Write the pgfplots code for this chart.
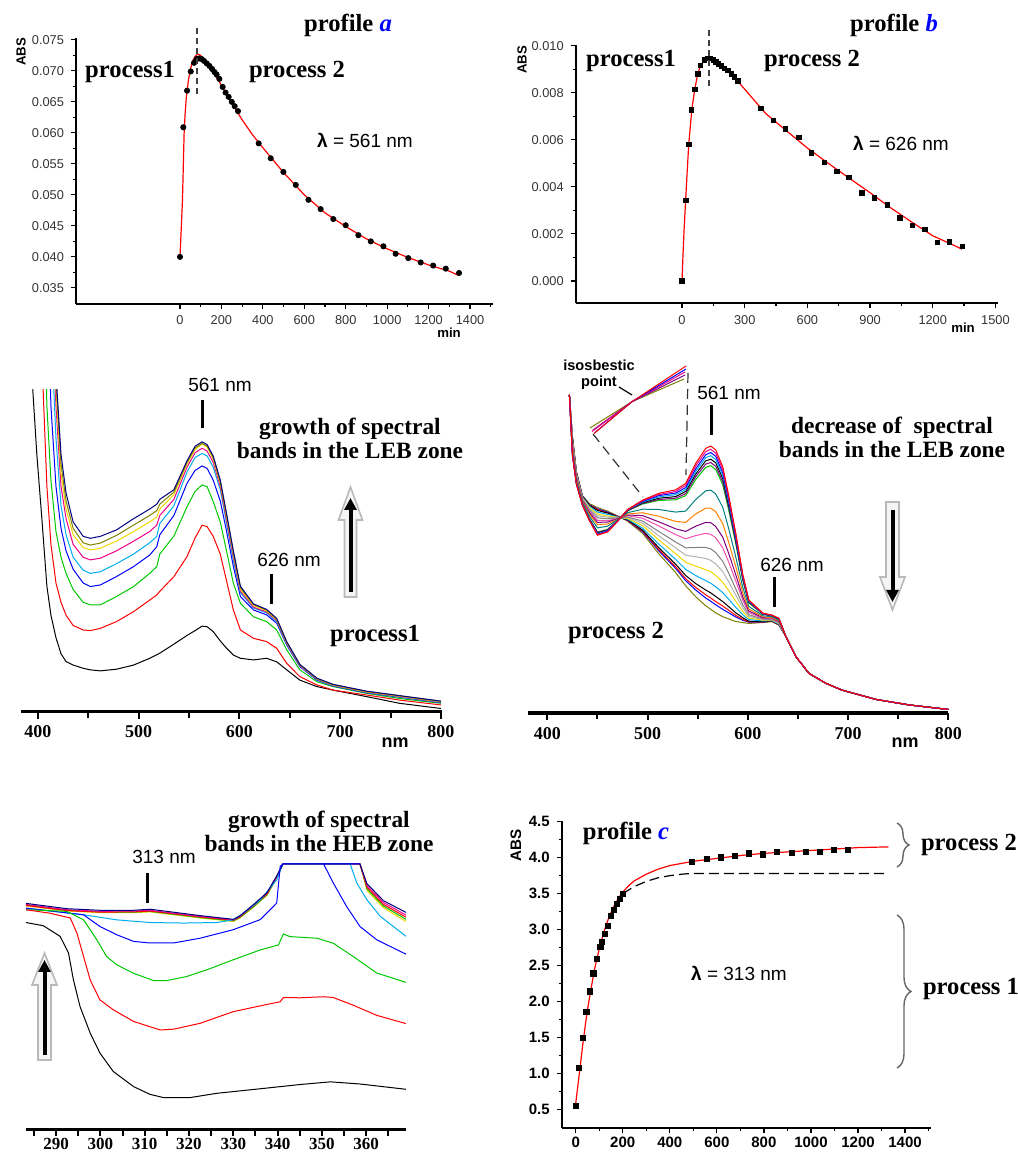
\documentclass[border=0pt]{standalone}
\usepackage{pgfplots}
\pgfplotsset{compat=1.18}
\usepackage{pgfplotstable}
\usepackage{fontspec}
\setmainfont{Liberation Serif}
\setsansfont{Liberation Sans}
\usetikzlibrary{arrows.meta,decorations.pathreplacing}
\definecolor{navy}{RGB}{0,0,128}
\definecolor{olivec}{RGB}{128,128,0}
\definecolor{yel}{RGB}{240,215,0}
\definecolor{grn}{RGB}{0,200,0}

\newcommand\bigbf{\fontsize{12.3}{14}\selectfont\bfseries}
\newcommand\midbf{\fontsize{11.7}{14.5}\selectfont\bfseries}
\newcommand\lam{\sffamily\fontsize{9.5}{11}\selectfont}
\newcommand\smsf{\sffamily\bfseries\fontsize{6.6}{7}\selectfont}

\pgfplotsset{
  /pgf/number format/assume math mode=true,
  /pgf/number format/1000 sep={},
  kinax/.style={scale only axis, anchor=south west,
    axis x line=bottom, axis y line=left, axis line style={-, line width=0.9pt},
    tick align=outside, major tick length=2.5pt, minor tick length=1.6pt,
    tick style={black, line width=0.6pt}, scaled y ticks=false,
    tick label style={font=\sffamily\fontsize{6.4}{7}\selectfont, text=black!80}},
  specax/.style={scale only axis, anchor=south west,
    axis x line=bottom, axis y line=none, ytick=\empty,
    axis line style={-, line width=1.7pt},
    tick align=outside, major tick length=3.5pt, minor tick length=3pt,
    tick style={black, line width=1pt}, ymin=0, ymax=1,
    xticklabel style={font=\bfseries\fontsize{9}{10}\selectfont}},
  sp/.style={line width=0.5pt, no marks},
}

% growth of the LEB bands (process 1)
\pgfplotstableread{
x   k0    k1    k2    k3    k4    k5    k6    k7    k8
390 1.4   3     3.5   4     4.5   5     5.5   6     6.5
395 1.0   2.3   2.8   3.3   3.8   4.2   4.6   5.0   5.5
399 0.80  1.7   2.2   2.6   3.1   3.5   3.8   4.2   4.6
404 0.60  1.1   1.6   2.0   2.4   2.7   2.9   3.2   3.6
409 0.39  0.70  0.95  1.4   1.7   1.9   2.05  2.3   2.6
413 0.30  0.52  0.72  0.95  1.2   1.35  1.45  1.6   1.8
418 0.23  0.40  0.56  0.70  0.85  0.95  1.0   1.03  1.05
423 0.18  0.34  0.48  0.57  0.64  0.70  0.74  0.77  0.80
428 0.156 0.30  0.43  0.50  0.55  0.60  0.63  0.655 0.68
435 0.145 0.268 0.38  0.443 0.48  0.52  0.55  0.57  0.59
445 0.135 0.254 0.34  0.40  0.44  0.48  0.51  0.525 0.545
452 0.130 0.252 0.332 0.389 0.430 0.472 0.503 0.518 0.539
462 0.127 0.259 0.332 0.394 0.435 0.477 0.508 0.524 0.545
478 0.132 0.280 0.358 0.42  0.46  0.50  0.53  0.548 0.565
495 0.145 0.311 0.389 0.451 0.49  0.53  0.56  0.58  0.60
511 0.166 0.347 0.430 0.487 0.525 0.56  0.59  0.61  0.63
518 0.177 0.363 0.451 0.513 0.545 0.58  0.605 0.625 0.645
521 0.182 0.374 0.49  0.55  0.585 0.61  0.63  0.645 0.66
535 0.210 0.42  0.546 0.61  0.64  0.66  0.675 0.683 0.69
548 0.237 0.482 0.637 0.71  0.745 0.76  0.77  0.775 0.78
556 0.252 0.540 0.685 0.75  0.79  0.805 0.815 0.82  0.825
563 0.266 0.580 0.705 0.764 0.803 0.819 0.832 0.834 0.839
568 0.264 0.575 0.699 0.756 0.795 0.81  0.822 0.826 0.83
574 0.249 0.545 0.653 0.72  0.76  0.775 0.785 0.79  0.795
581 0.22  0.49  0.59  0.655 0.69  0.70  0.71  0.715 0.72
587 0.198 0.41  0.503 0.565 0.59  0.60  0.61  0.615 0.62
594 0.176 0.316 0.399 0.451 0.47  0.48  0.49  0.495 0.50
601 0.166 0.254 0.337 0.358 0.37  0.375 0.38  0.385 0.39
614 0.161 0.228 0.295 0.316 0.322 0.325 0.33  0.333 0.335
627 0.166 0.218 0.28  0.301 0.307 0.31  0.313 0.316 0.318
637 0.155 0.197 0.254 0.275 0.28  0.283 0.286 0.288 0.29
647 0.130 0.150 0.192 0.207 0.21  0.212 0.214 0.216 0.217
660 0.098 0.109 0.130 0.14  0.142 0.143 0.145 0.146 0.147
677 0.078 0.083 0.093 0.098 0.10  0.101 0.102 0.103 0.104
693 0.067 0.067 0.078 0.080 0.081 0.082 0.083 0.084 0.085
726 0.047 0.052 0.057 0.059 0.060 0.061 0.062 0.063 0.064
759 0.026 0.036 0.041 0.045 0.046 0.047 0.048 0.049 0.050
800 0.010 0.021 0.026 0.028 0.029 0.030 0.031 0.032 0.033
}\tabC

% decrease of the LEB bands (process 2)
\pgfplotstableread{
x   a   b   c   d   e   f   g   h   i   j   k   l   m   n   o   p   q   r   s
422 .988 .988 .988 .988 .988 .988 .988 .988 .988 .988 .988 .988 .988 .988 .988 .988 .988 .988 .988
425 .800 .801 .802 .804 .805 .806 .807 .816 .823 .828 .832 .838 .842 .846 .850 .854 .856 .857 .860
429 .710 .711 .712 .712 .713 .714 .715 .721 .725 .729 .732 .735 .738 .741 .744 .746 .747 .748 .750
435 .645 .646 .646 .647 .647 .648 .649 .653 .656 .659 .661 .664 .666 .668 .670 .672 .673 .674 .675
442 .597 .598 .599 .600 .601 .602 .603 .611 .617 .622 .626 .630 .634 .638 .642 .645 .646 .647 .650
450 .552 .554 .555 .557 .559 .561 .562 .575 .585 .592 .598 .606 .612 .618 .624 .629 .632 .634 .638
460 .562 .563 .565 .566 .567 .569 .570 .580 .587 .593 .597 .603 .608 .612 .617 .621 .622 .624 .627
470 .595 .595 .596 .596 .596 .597 .597 .600 .601 .603 .604 .606 .607 .608 .609 .610 .611 .611 .612
480 .632 .631 .631 .630 .629 .628 .628 .622 .618 .615 .613 .609 .607 .604 .602 .600 .599 .598 .596
495 .661 .659 .657 .655 .653 .651 .649 .633 .622 .613 .605 .596 .589 .582 .574 .568 .565 .563 .558
511 .682 .678 .675 .671 .667 .663 .660 .632 .611 .594 .581 .564 .551 .538 .525 .514 .508 .504 .495
528 .693 .688 .683 .678 .672 .667 .662 .624 .595 .572 .554 .531 .513 .495 .477 .462 .454 .449 .436
538 .713 .707 .700 .694 .688 .681 .675 .627 .592 .564 .541 .513 .490 .468 .446 .427 .417 .411 .395
548 .775 .767 .758 .750 .742 .734 .725 .663 .618 .580 .551 .514 .485 .456 .427 .402 .390 .382 .361
558 .822 .812 .802 .793 .783 .773 .763 .690 .636 .592 .558 .514 .480 .445 .411 .382 .367 .357 .333
563 .829 .819 .809 .799 .788 .778 .768 .692 .636 .591 .555 .510 .474 .439 .403 .373 .357 .347 .322
568 .817 .807 .797 .787 .777 .766 .756 .680 .625 .579 .544 .498 .463 .427 .392 .362 .346 .336 .311
575 .765 .756 .746 .737 .728 .718 .709 .639 .588 .546 .513 .471 .439 .406 .374 .346 .332 .322 .299
581 .675 .667 .660 .652 .644 .637 .629 .572 .529 .495 .468 .434 .407 .380 .353 .330 .319 .311 .292
588 .558 .553 .547 .542 .536 .531 .525 .484 .454 .429 .410 .385 .366 .347 .328 .311 .303 .298 .284
595 .430 .427 .424 .421 .418 .415 .412 .390 .373 .360 .350 .336 .326 .315 .305 .296 .291 .288 .281
601 .351 .350 .348 .347 .345 .344 .342 .331 .323 .317 .312 .305 .300 .295 .290 .285 .283 .282 .278
615 .310 .309 .309 .308 .308 .307 .307 .302 .299 .296 .294 .292 .290 .288 .286 .284 .283 .282 .281
624 .304 .304 .303 .303 .302 .302 .302 .299 .296 .295 .293 .291 .290 .289 .287 .286 .285 .285 .284
631 .294 .294 .293 .293 .292 .292 .291 .288 .286 .284 .283 .281 .279 .278 .276 .275 .274 .274 .273
638 .237 .237 .237 .237 .237 .237 .237 .237 .237 .237 .237 .237 .237 .237 .237 .237 .237 .237 .237
648 .175 .175 .175 .175 .175 .175 .175 .175 .175 .175 .175 .175 .175 .175 .175 .175 .175 .175 .175
661 .123 .123 .123 .123 .123 .123 .123 .123 .123 .123 .123 .123 .123 .123 .123 .123 .123 .123 .123
678 .092 .092 .092 .092 .092 .092 .092 .092 .092 .092 .092 .092 .092 .092 .092 .092 .092 .092 .092
694 .071 .071 .071 .071 .071 .071 .071 .071 .071 .071 .071 .071 .071 .071 .071 .071 .071 .071 .071
728 .042 .042 .042 .042 .042 .042 .042 .042 .042 .042 .042 .042 .042 .042 .042 .042 .042 .042 .042
761 .025 .025 .025 .025 .025 .025 .025 .025 .025 .025 .025 .025 .025 .025 .025 .025 .025 .025 .025
800 .011 .011 .011 .011 .011 .011 .011 .011 .011 .011 .011 .011 .011 .011 .011 .011 .011 .011 .011
}\tabD

\begin{document}
\begin{tikzpicture}
\useasboundingbox (0,0) rectangle (509pt,576pt);

% ---------- profile a
\begin{axis}[kinax, at={(38pt,424pt)}, width=208.5pt, height=133pt,
  xmin=-502, xmax=1511, ymin=0.0324, ymax=0.0753,
  xtick={0,200,400,600,800,1000,1200,1400}, minor xtick={100,300,500,700,900,1100,1300,1500},
  ytick={0.035,0.040,0.045,0.050,0.055,0.060,0.065,0.070,0.075},
  minor ytick={0.0375,0.0425,0.0475,0.0525,0.0575,0.0625,0.0675,0.0725},
  yticklabel style={/pgf/number format/.cd,fixed,fixed zerofill,precision=3}]
\addplot[red, line width=0.6pt, no marks] coordinates {
(0,0.0400)(6,0.0445)(12,0.0492)(16,0.0546)(20,0.0600)(25,0.0632)(31,0.0659)(40,0.0683)
(48,0.0699)(56,0.0710)(64,0.0718)(75,0.0724)(85,0.0727)(95,0.0726)(110,0.0721)(130,0.0712)
(150,0.0702)(175,0.0690)(200,0.0677)(250,0.0648)(300,0.0621)(350,0.0597)(400,0.0576)
(500,0.0536)(600,0.0500)(700,0.0471)(800,0.0449)(900,0.0429)(1000,0.0413)(1100,0.0399)
(1200,0.0387)(1300,0.0377)(1345,0.0370)};
\addplot[only marks, mark=*, mark size=1.3pt, black] coordinates {
(0,0.0400)(16,0.0609)(34,0.0668)(52,0.0699)(68,0.0713)(80,0.0719)(93,0.0720)(105,0.0719)
(116,0.0716)(129,0.0712)(142,0.0708)(155,0.0703)(167,0.0698)(177,0.0694)(190,0.0687)
(206,0.0674)(220,0.0665)(235,0.0658)(250,0.0650)(264,0.0643)(280,0.0635)(380,0.0583)
(438,0.0559)(499,0.0537)(559,0.0516)(620,0.0492)(679,0.0477)(740,0.0461)(800,0.0451)
(861,0.0435)(921,0.0425)(982,0.0417)(1041,0.0405)(1102,0.0398)(1162,0.0391)(1222,0.0386)
(1283,0.0381)(1347,0.0374)};
\end{axis}

% ---------- profile b
\begin{axis}[kinax, at={(287.85pt,424.35pt)}, width=211pt, height=129.15pt,
  xmin=-509, xmax=1511, ymin=-0.00095, ymax=0.01003,
  xtick={0,300,600,900,1200,1500}, minor xtick={150,450,750,1050,1350},
  ytick={0,0.002,0.004,0.006,0.008,0.010}, minor ytick={0.001,0.003,0.005,0.007,0.009},
  yticklabel style={/pgf/number format/.cd,fixed,fixed zerofill,precision=3}]
\addplot[red, line width=0.6pt, no marks] coordinates {
(0,0)(5,0.0012)(10,0.0022)(17,0.0034)(25,0.0047)(32,0.0058)(40,0.0066)(47,0.0073)
(60,0.0081)(75,0.0088)(90,0.00918)(110,0.00940)(130,0.00948)(150,0.00945)(175,0.00932)
(200,0.00912)(250,0.00866)(300,0.00815)(400,0.00712)(500,0.00638)(600,0.00565)
(700,0.00500)(800,0.00437)(900,0.00375)(1000,0.00310)(1100,0.00250)(1200,0.00192)
(1300,0.00152)(1340,0.00135)};
\addplot[only marks, mark=square*, mark size=1.1pt, black] coordinates {
(0,0.0000)(18,0.00343)(32,0.00581)(46,0.00727)(61,0.00814)(75,0.00880)(89,0.00915)
(107,0.00939)(122,0.00946)(136,0.00945)(150,0.00939)(162,0.00931)(175,0.00922)
(189,0.00914)(203,0.00904)(219,0.00894)(235,0.00880)(251,0.00868)(267,0.00850)
(377,0.00734)(437,0.00683)(496,0.00646)(559,0.00609)(619,0.00544)(680,0.00503)
(741,0.00465)(799,0.00441)(860,0.00374)(921,0.00353)(982,0.00323)(1043,0.00268)
(1103,0.00237)(1162,0.00220)(1222,0.00163)(1281,0.00166)(1342,0.00146)};
\end{axis}

% ---------- spectra, process 1
\begin{axis}[specax, at={(10.35pt,220.15pt)}, width=210.5pt, height=160.85pt,
  xmin=383, xmax=800.7, xtick={400,500,600,700,800}, minor xtick={450,550,650,750}]
\addplot[sp, black]  table[x=x,y=k0] {\tabC};
\addplot[sp, red]    table[x=x,y=k1] {\tabC};
\addplot[sp, grn]    table[x=x,y=k2] {\tabC};
\addplot[sp, blue]   table[x=x,y=k3] {\tabC};
\addplot[sp, cyan]   table[x=x,y=k4] {\tabC};
\addplot[sp, magenta]table[x=x,y=k5] {\tabC};
\addplot[sp, yel]    table[x=x,y=k6] {\tabC};
\addplot[sp, olivec] table[x=x,y=k7] {\tabC};
\addplot[sp, navy]   table[x=x,y=k8] {\tabC};
\end{axis}

% ---------- spectra, process 2
\begin{axis}[specax, at={(264.15pt,219.5pt)}, width=210pt, height=161pt,
  xmin=381, xmax=800, xtick={400,500,600,700,800}, minor xtick={450,550,650,750}]
\addplot[sp, olivec]     table[x=x,y=s] {\tabD};
\addplot[sp, blue]       table[x=x,y=r] {\tabD};
\addplot[sp, red]        table[x=x,y=q] {\tabD};
\addplot[sp, black]      table[x=x,y=p] {\tabD};
\addplot[sp, cyan]       table[x=x,y=o] {\tabD};
\addplot[sp, yel]        table[x=x,y=n] {\tabD};
\addplot[sp, black!30]   table[x=x,y=m] {\tabD};
\addplot[sp, gray]       table[x=x,y=l] {\tabD};
\addplot[sp, magenta!70] table[x=x,y=k] {\tabD};
\addplot[sp, violet]     table[x=x,y=j] {\tabD};
\addplot[sp, orange]     table[x=x,y=i] {\tabD};
\addplot[sp, teal]       table[x=x,y=h] {\tabD};
\addplot[sp, grn]        table[x=x,y=g] {\tabD};
\addplot[sp, violet]     table[x=x,y=f] {\tabD};
\addplot[sp, black]      table[x=x,y=e] {\tabD};
\addplot[sp, cyan]       table[x=x,y=d] {\tabD};
\addplot[sp, blue]       table[x=x,y=c] {\tabD};
\addplot[sp, magenta]    table[x=x,y=b] {\tabD};
\addplot[sp, red]        table[x=x,y=a] {\tabD};
\end{axis}

% ---------- isosbestic inset
\begin{axis}[scale only axis, anchor=south west, at={(292.5pt,355pt)}, width=52.5pt, height=40pt,
  xmin=585, xmax=690, ymin=710, ymax=790, hide axis, clip=false]
\addplot[sp, olivec]  coordinates {(590,724)(632,750.3)(684,773)};
\addplot[sp, violet]  coordinates {(593,722)(632,750.3)(685,777)};
\addplot[sp, magenta] coordinates {(592,720.5)(632,750.3)(685,780)};
\addplot[sp, blue]    coordinates {(595,719.5)(632,750.3)(686,783)};
\addplot[sp, red]     coordinates {(594,718.5)(632,750.3)(686,786)};
\end{axis}

% ---------- spectra, HEB zone
\begin{axis}[specax, at={(13pt,11pt)}, width=190pt, height=135.66pt,
  axis line style={-, line width=1.5pt}, major tick length=3pt, minor tick length=3pt,
  xmin=283.2, xmax=369.0, ymin=0, ymax=1.02,
  xtick={290,300,310,320,330,340,350,360}, minor xtick={285,295,305,315,325,335,345,355,365},
  xticklabel style={font=\bfseries\fontsize{8.5}{10}\selectfont, inner sep=1pt}]
\addplot[sp, yel] coordinates {(283.2,0.842)(292.4,0.823)(299.9,0.817)(307.5,0.817)(311.2,0.820)(315.0,0.812)(322.5,0.797)(330.0,0.784)(331.5,0.797)(334.6,0.838)(337.6,0.882)(339.8,0.946)(341.2,1.0)(358.6,1.0)(360.2,0.900)(361.7,0.874)(363.9,0.836)(369.0,0.784)};
\addplot[sp, grn] coordinates {(283.2,0.846)(292.4,0.826)(299.9,0.820)(307.5,0.819)(311.2,0.822)(315.0,0.814)(322.5,0.799)(330.0,0.786)(331.5,0.799)(334.6,0.840)(337.6,0.884)(339.8,0.948)(341.2,1.0)(358.6,1.0)(360.2,0.906)(361.7,0.880)(363.9,0.842)(369.0,0.792)};
\addplot[sp, red] coordinates {(283.2,0.844)(292.4,0.825)(299.9,0.819)(307.5,0.820)(311.2,0.823)(315.0,0.816)(322.5,0.801)(330.0,0.788)(331.5,0.801)(334.6,0.843)(337.6,0.887)(339.8,0.950)(341.2,1.0)(358.6,1.0)(360.2,0.912)(361.7,0.886)(363.9,0.848)(369.0,0.800)};
\addplot[sp, magenta] coordinates {(283.2,0.848)(292.4,0.828)(299.9,0.822)(307.5,0.823)(311.2,0.826)(315.0,0.818)(322.5,0.803)(330.0,0.790)(331.5,0.803)(334.6,0.846)(337.6,0.890)(339.8,0.952)(341.2,1.0)(358.6,1.0)(360.2,0.918)(361.7,0.893)(363.9,0.855)(369.0,0.808)};
\addplot[sp, cyan] coordinates {(283.2,0.834)(296.2,0.809)(303.7,0.790)(311.2,0.780)(318.8,0.778)(326.3,0.780)(330.0,0.790)(332.3,0.815)(336.1,0.865)(339.8,0.940)(341.2,1.0)(356.4,1.0)(357.9,0.928)(360.2,0.865)(363.2,0.803)(369.0,0.728)};
\addplot[sp, navy] coordinates {(283.2,0.852)(292.4,0.832)(299.9,0.826)(307.5,0.826)(311.2,0.830)(315.0,0.822)(322.5,0.806)(330.0,0.792)(331.5,0.805)(334.6,0.848)(337.6,0.892)(339.8,0.955)(341.2,1.0)(358.6,1.0)(360.2,0.925)(361.7,0.900)(363.9,0.862)(369.0,0.818)};
\addplot[sp, blue] coordinates {(283.2,0.834)(296.2,0.809)(299.9,0.765)(303.7,0.734)(307.5,0.709)(311.2,0.703)(316.5,0.703)(322.5,0.721)(330.0,0.753)(336.1,0.791)(339.8,0.853)(340.6,0.991)(341.2,1.0)(358.6,1.0)};
\addplot[sp, blue] coordinates {(350.4,1.0)(352.6,0.928)(355.6,0.840)(358.6,0.765)(362.4,0.715)(369.0,0.661)};
\addplot[sp, grn] coordinates {(283.2,0.828)(292.4,0.822)(296.2,0.790)(299.2,0.715)(301.4,0.652)(303.7,0.621)(307.5,0.589)(312.0,0.562)(315.0,0.562)(319.5,0.577)(324.0,0.602)(330.0,0.640)(336.1,0.677)(340.2,0.696)(341.3,0.737)(342.8,0.727)(348.9,0.721)(352.6,0.702)(357.1,0.652)(362.4,0.590)(369.0,0.555)};
\addplot[sp, red] coordinates {(283.2,0.828)(288.6,0.815)(293.2,0.797)(294.7,0.740)(296.2,0.652)(297.7,0.564)(299.9,0.489)(302.9,0.452)(307.5,0.408)(313.5,0.376)(316.5,0.379)(322.5,0.401)(330.0,0.445)(337.6,0.472)(340.6,0.482)(341.3,0.498)(345.1,0.497)(350.4,0.501)(352.6,0.498)(357.1,0.469)(362.4,0.431)(369.0,0.400)};
\addplot[sp, black] coordinates {(283.2,0.780)(287.1,0.768)(290.9,0.728)(292.8,0.665)(293.9,0.565)(295.4,0.464)(297.7,0.364)(299.9,0.289)(302.9,0.220)(307.5,0.163)(311.2,0.134)(314.2,0.122)(320.3,0.122)(326.3,0.138)(333.8,0.151)(340.6,0.163)(345.1,0.171)(351.9,0.181)(358.6,0.173)(369.0,0.153)};
\end{axis}

% ---------- profile c
\begin{axis}[kinax, at={(281.15pt,12.15pt)}, width=184.2pt, height=153.35pt,
  axis line style={-, line width=1.1pt}, major tick length=2.8pt, minor tick length=1.8pt,
  xmin=-57, xmax=1509, ymin=0.244, ymax=4.51,
  xtick={0,200,400,600,800,1000,1200,1400}, minor xtick={100,300,500,700,900,1100,1300,1500},
  ytick={0.5,1.0,1.5,2.0,2.5,3.0,3.5,4.0,4.5},
  minor ytick={0.75,1.25,1.75,2.25,2.75,3.25,3.75,4.25},
  tick label style={font=\sffamily\bfseries\fontsize{7.5}{8}\selectfont, text=black},
  xticklabel style={inner sep=1.5pt},
  yticklabel style={/pgf/number format/.cd,fixed,fixed zerofill,precision=1}]
\addplot[black, line width=0.6pt, dash pattern=on 5pt off 2.5pt, no marks] coordinates {
(200,3.50)(250,3.60)(300,3.67)(350,3.72)(400,3.75)(450,3.77)(490,3.78)(1330,3.78)};
\addplot[red, line width=0.6pt, no marks] coordinates {
(0,0.58)(10,0.85)(20,1.12)(30,1.40)(40,1.65)(50,1.88)(60,2.08)(80,2.45)(100,2.73)
(120,2.97)(140,3.16)(160,3.31)(180,3.43)(200,3.52)(225,3.61)(250,3.68)(300,3.77)
(350,3.84)(400,3.89)(450,3.92)(500,3.95)(600,3.99)(700,4.03)(800,4.06)(900,4.08)
(1000,4.10)(1100,4.12)(1200,4.14)(1330,4.15)};
\addplot[only marks, mark=square*, mark size=1.3pt, black] coordinates {
(0,0.55)(15,1.08)(30,1.49)(45,1.85)(60,2.14)(75,2.39)(90,2.59)(105,2.76)(112,2.83)
(125,2.94)(137,3.05)(150,3.19)(162,3.27)(175,3.36)(187,3.43)(200,3.50)
(495,3.944)(558,3.981)(618,4.004)(677,4.023)(737,4.060)(797,4.046)(855,4.078)
(918,4.069)(979,4.078)(1039,4.078)(1098,4.106)(1158,4.111)};
\end{axis}

\begin{scope}[x=0.5pt,y=0.5pt]
% ---------- annotations, top row
\node at (348,1127) {\bigbf profile \textcolor{blue}{\textit{a}}};
\node at (130,1080) {\bigbf process1};
\node at (297,1080) {\bigbf process 2};
\node at (365,1012) {\lam{\bfseries λ} = 561 nm};
\node[rotate=90] at (21,1100) {\smsf ABS};
\node at (449,819) {\smsf min};
\draw[black!75, line width=0.6pt, dash pattern=on 3pt off 2pt] (197,1124)--(197,1057);

\node at (894,1127) {\bigbf profile \textcolor{blue}{\textit{b}}};
\node at (631,1091) {\bigbf process1};
\node at (812,1091) {\bigbf process 2};
\node at (901,1009) {\lam{\bfseries λ} = 626 nm};
\node[rotate=90] at (522,1092) {\smsf ABS};
\node at (963,824) {\smsf min};
\draw[black!75, line width=0.6pt, dash pattern=on 3pt off 2pt] (709,1122)--(709,1062);

% ---------- annotations, middle row
\node at (220,767) {\lam 561 nm};
\draw[line width=1.5pt] (202,752)--(202,724);
\node[align=center] at (350,713.5) {\midbf growth of spectral\\ \midbf bands in the LEB zone};
\node at (289,592) {\lam 626 nm};
\draw[line width=1.5pt] (271,578)--(271,548);
\node at (375,516) {\bigbf process1};
\node at (395,409) {\sffamily\bfseries\fontsize{9}{10}\selectfont nm};
\filldraw[fill=gray!8, draw=gray!55, line width=0.8pt]
  (344.5,555)--(356.5,555)--(356.5,632)--(362.5,632)--(350.5,665)--(338.5,632)--(344.5,632)--cycle;
\draw[line width=2pt, -{Triangle[length=6pt,width=6pt]}] (350.5,560)--(350.5,654);

\node at (599,787) {\sffamily\bfseries\fontsize{7.3}{8}\selectfont isosbestic};
\node at (599,769) {\sffamily\bfseries\fontsize{7.3}{8}\selectfont point};
\draw[line width=0.6pt] (619,765)--(632,757);
\draw[black!80, line width=0.6pt, dash pattern=on 5pt off 3pt] (593,718)--(643,655);
\draw[black!80, line width=0.6pt, dash pattern=on 5pt off 3pt] (688,779)--(686,677);
\node at (729,759) {\lam 561 nm};
\draw[line width=1.5pt] (711,747)--(711,717);
\node[align=center] at (892,715) {\midbf decrease of\ \ spectral\\ \midbf bands in the LEB zone};
\node at (792,587) {\lam 626 nm};
\draw[line width=1.5pt] (774,575)--(774,545);
\node at (616,519) {\bigbf process 2};
\node at (905,409) {\sffamily\bfseries\fontsize{9}{10}\selectfont nm};
\filldraw[fill=gray!8, draw=gray!55, line width=0.8pt]
  (886,650)--(899,650)--(899,575)--(905,575)--(892.5,542)--(880,575)--(886,575)--cycle;
\draw[line width=2pt, -{Triangle[length=6pt,width=6pt]}] (892.5,642)--(892.5,550);

% ---------- annotations, bottom row
\node[align=center] at (319,321) {\midbf growth of spectral\\ \midbf bands in the HEB zone};
\node at (164,295) {\lam 313 nm};
\draw[line width=1.5pt] (147,279)--(147,249);
\filldraw[fill=gray!8, draw=gray!55, line width=0.8pt]
  (38,92)--(51,92)--(51,167)--(57,167)--(44.5,199)--(32,167)--(38,167)--cycle;
\draw[line width=2pt, -{Triangle[length=6pt,width=6pt]}] (44.5,97)--(44.5,192);

\node[rotate=90] at (516,307) {\sffamily\bfseries\fontsize{7.6}{8}\selectfont ABS};
\node at (626,319) {\bigbf profile \textcolor{blue}{\textit{c}}};
\node at (739,179) {\lam{\bfseries λ} = 313 nm};
\draw[black!60, line width=0.7pt, decorate, decoration={brace, amplitude=6pt}] (897,329)--(897,285);
\draw[black!60, line width=0.7pt, decorate, decoration={brace, amplitude=7pt}] (897,237)--(897,84);
\node at (969,307) {\bigbf process 2};
\node at (971,163) {\bigbf process 1};
\end{scope}
\end{tikzpicture}
\end{document}
